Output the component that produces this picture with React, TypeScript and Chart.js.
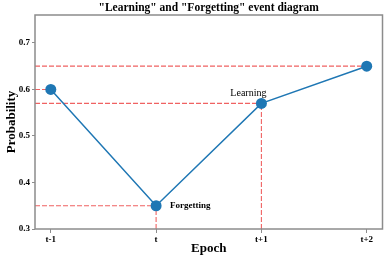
import React, { useEffect, useRef } from "react";
import { Chart, registerables } from "chart.js";

Chart.register(...registerables);

const categories = ["t-1", "t", "t+1", "t+2"];
const probabilities = [0.6, 0.35, 0.57, 0.65];
const yTicks = [0.3, 0.4, 0.5, 0.6, 0.7];
const horizontalGuides = [0, 1, 2, 3]; // indices with horizontal guide
const verticalGuides = [1, 2]; // indices with vertical guide
const annotations = [
  { index: 2, text: "Learning", dx: -13, dy: -10, align: "center", bold: false, size: 10 },
  { index: 1, text: "Forgetting", dx: 14, dy: 0, align: "left", bold: true, size: 9 },
];
const titleText = '"Learning" and "Forgetting" event diagram';
const xTitle = "Epoch";
const yTitle = "Probability";

const X_MIN = -0.15;
const X_MAX = 3.15;
const Y_MIN = 0.3;
const Y_MAX = 0.76;
const SERIF = "'Liberation Serif', 'DejaVu Serif', serif";
const GUIDE = "#f06262";

export default function App() {
  const ref = useRef<HTMLCanvasElement>(null);

  useEffect(() => {
    document.body.style.margin = "0";
    const canvas = ref.current!;
    const points = probabilities.map((v, i) => ({ x: i, y: v }));
    const guideSets: any[] = [];
    horizontalGuides.forEach((i) => {
      guideSets.push({
        data: [
          { x: X_MIN, y: probabilities[i] },
          { x: i, y: probabilities[i] },
        ],
        borderColor: GUIDE,
        backgroundColor: GUIDE,
        borderWidth: 1.1,
        borderDash: [5, 2],
        pointRadius: 0,
        order: 2,
      });
    });
    verticalGuides.forEach((i) => {
      guideSets.push({
        data: [
          { x: i, y: Y_MIN },
          { x: i, y: probabilities[i] },
        ],
        borderColor: GUIDE,
        backgroundColor: GUIDE,
        borderWidth: 1.1,
        borderDash: [5, 2],
        pointRadius: 0,
        order: 2,
      });
    });

    const textPlugin = {
      id: "texts",
      afterDraw(chart: any) {
        const { ctx, chartArea, scales } = chart;
        ctx.save();
        // frame
        ctx.strokeStyle = "#8c8c8c";
        ctx.lineWidth = 1.5;
        ctx.strokeRect(chartArea.left, chartArea.top, chartArea.right - chartArea.left, chartArea.bottom - chartArea.top);
        ctx.fillStyle = "#000";
        // title
        ctx.font = `bold 11.5px ${SERIF}`;
        ctx.textAlign = "center";
        ctx.textBaseline = "alphabetic";
        ctx.fillText(titleText, (chartArea.left + chartArea.right) / 2, 11);
        // x title
        ctx.font = `bold 13px ${SERIF}`;
        ctx.fillText(xTitle, (chartArea.left + chartArea.right) / 2, 252);
        // y title
        ctx.save();
        ctx.translate(12, (chartArea.top + chartArea.bottom) / 2);
        ctx.rotate(-Math.PI / 2);
        ctx.textBaseline = "middle";
        ctx.fillText(yTitle, 0, 0);
        ctx.restore();
        // annotations
        annotations.forEach((a) => {
          const px = scales.x.getPixelForValue(a.index);
          const py = scales.y.getPixelForValue(probabilities[a.index]);
          ctx.font = `${a.bold ? "bold " : ""}${a.size}px ${SERIF}`;
          ctx.textAlign = a.align;
          ctx.textBaseline = "middle";
          ctx.fillText(a.text, px + a.dx, py + a.dy);
        });
        ctx.restore();
      },
    };

    const chart = new Chart(canvas, {
      type: "line",
      data: {
        datasets: [
          {
            data: points,
            borderColor: "#1f77b4",
            backgroundColor: "#1f77b4",
            borderWidth: 1.5,
            pointRadius: 5.5,
            pointHoverRadius: 5.5,
            pointBorderWidth: 0,
            order: 1,
          },
          ...guideSets,
        ],
      },
      options: {
        animation: false,
        responsive: false,
        events: [],
        layout: { padding: { top: 15, right: 3, left: 0, bottom: 0 } },
        plugins: { legend: { display: false }, tooltip: { enabled: false }, title: { display: false } },
        scales: {
          x: {
            type: "linear",
            min: X_MIN,
            max: X_MAX,
            afterBuildTicks: (s: any) => {
              s.ticks = categories.map((_, i) => ({ value: i }));
            },
            afterFit: (s: any) => {
              s.height = 29;
            },
            ticks: {
              callback: (v: any) => categories[v] ?? "",
              color: "#000",
              font: { family: SERIF, size: 9, weight: "bold" },
              padding: 1,
              maxRotation: 0,
            },
            grid: { drawOnChartArea: false, tickLength: 4, color: "#8c8c8c" },
            border: { display: false },
          },
          y: {
            type: "linear",
            min: Y_MIN,
            max: Y_MAX,
            afterBuildTicks: (s: any) => {
              s.ticks = yTicks.map((v) => ({ value: v }));
            },
            afterFit: (s: any) => {
              s.width = 35;
            },
            ticks: {
              callback: (v: any) => Number(v).toFixed(1),
              color: "#000",
              font: { family: SERIF, size: 9, weight: "bold" },
              padding: 2,
            },
            grid: { drawOnChartArea: false, tickLength: 3, color: "#8c8c8c" },
            border: { display: false },
          },
        },
      },
      plugins: [textPlugin],
    } as any);
    return () => chart.destroy();
  }, []);

  return <canvas ref={ref} width={388} height={258} style={{ display: "block" }} />;
}
